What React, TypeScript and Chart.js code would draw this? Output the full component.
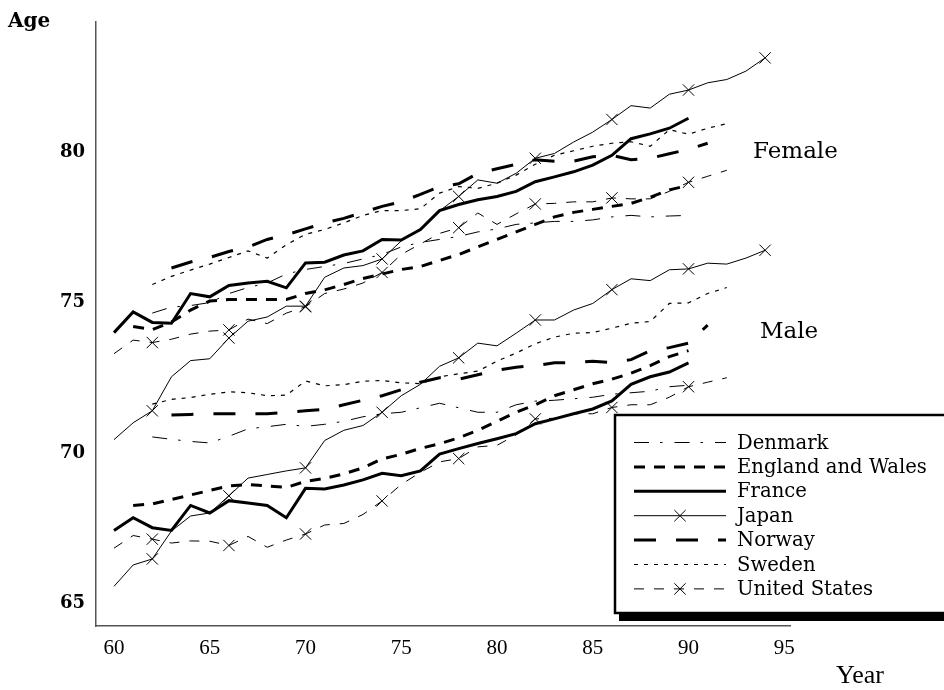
import React, { useEffect, useRef } from 'react';
import { Chart, registerables } from 'chart.js';

Chart.register(...registerables);

const N = null;

// Years (19xx) shared by all series
const years = [60, 61, 62, 63, 64, 65, 66, 67, 68, 69, 70, 71, 72, 73, 74, 75, 76, 77, 78, 79, 80, 81, 82, 83, 84, 85, 86, 87, 88, 89, 90, 91, 92, 93, 94];

const xTicks = [60, 65, 70, 75, 80, 85, 90, 95];
const yTicks = [65, 70, 75, 80];

const countries = ['Denmark', 'England and Wales', 'France', 'Japan', 'Norway', 'Sweden', 'United States'];

const japanMarkerYears = [62, 66, 70, 74, 78, 82, 86, 90, 94];
const usMarkerYears = [62, 66, 70, 74, 78, 82, 86, 90];

// Female life expectancy
const denmarkFemale = [N, N, 74.65, 74.85, 74.9, 75.0, 75.3, 75.5, 75.65, 75.95, 76.1, 76.2, 76.3, 76.45, 76.6, 76.85, 77.0, 77.1, 77.2, 77.35, 77.45, 77.6, 77.65, 77.7, 77.7, 77.75, 77.85, 77.9, 77.85, 77.88, 77.9, N, N, N, N];
const englandFemale = [N, 74.2, 74.1, 74.35, 74.75, 75.05, 75.1, 75.1, 75.1, 75.1, 75.3, 75.42, 75.6, 75.8, 75.95, 76.1, 76.2, 76.4, 76.6, 76.85, 77.1, 77.35, 77.6, 77.85, 78.0, 78.1, 78.2, 78.3, 78.5, 78.75, 78.9, N, N, N, N];
const franceFemale = [74.0, 74.69, 74.34, 74.31, 75.3, 75.19, 75.57, 75.65, 75.71, 75.49, 76.32, 76.34, 76.58, 76.72, 77.1, 77.08, 77.43, 78.06, 78.26, 78.42, 78.53, 78.7, 79.02, 79.18, 79.35, 79.57, 79.9, 80.45, 80.61, 80.8, 81.13, N, N, N, N];
const japanFemale = [70.44, 71.0, 71.4, 72.53, 73.07, 73.13, 73.82, 74.38, 74.52, 74.88, 74.88, 75.84, 76.15, 76.23, 76.45, 77.05, 77.45, 78.05, 78.53, 79.08, 78.97, 79.3, 79.8, 79.96, 80.34, 80.67, 81.09, 81.55, 81.47, 81.93, 82.07, 82.31, 82.42, 82.7, 83.14];
const norwayFemale = [N, N, N, 76.15, 76.35, 76.5, 76.7, 76.85, 77.1, 77.25, 77.45, 77.65, 77.8, 78.0, 78.2, 78.35, 78.6, 78.85, 78.95, 79.3, 79.45, 79.6, 79.75, 79.7, 79.7, 79.85, 79.9, 79.75, 79.8, 79.95, 80.1, 80.3, N, N, N];
const swedenFemale = [N, N, 75.6, 75.87, 76.08, 76.28, 76.5, 76.72, 76.48, 76.92, 77.27, 77.43, 77.65, 77.9, 78.06, 78.06, 78.12, 78.64, 78.86, 78.8, 78.97, 79.24, 79.6, 79.9, 80.05, 80.2, 80.3, 80.35, 80.2, 80.75, 80.6, 80.8, 80.95, N, N];
const usFemale = [73.3, 73.75, 73.67, 73.78, 73.95, 74.05, 74.09, 74.45, 74.3, 74.65, 74.86, 75.3, 75.45, 75.65, 76.0, 76.6, 76.95, 77.3, 77.49, 77.98, 77.6, 77.95, 78.28, 78.3, 78.35, 78.35, 78.48, 78.45, 78.45, 78.7, 79.0, 79.2, 79.4, N, N];

// Male life expectancy
const denmarkMale = [N, N, 70.53, 70.45, 70.38, 70.33, 70.55, 70.8, 70.87, 70.95, 70.88, 70.95, 71.05, 71.2, 71.3, 71.35, 71.5, 71.65, 71.5, 71.35, 71.35, 71.6, 71.72, 71.75, 71.8, 71.85, 71.95, 72.0, 72.05, 72.2, 72.25, N, N, N, N];
const englandMale = [N, 68.25, 68.3, 68.45, 68.6, 68.75, 68.9, 68.95, 68.9, 68.85, 69.05, 69.15, 69.3, 69.5, 69.8, 69.95, 70.15, 70.3, 70.5, 70.75, 71.05, 71.35, 71.6, 71.9, 72.1, 72.3, 72.45, 72.65, 72.9, 73.2, 73.4, N, N, N, N];
const franceMale = [67.42, 67.84, 67.51, 67.42, 68.25, 68.0, 68.41, 68.33, 68.25, 67.84, 68.82, 68.8, 68.93, 69.1, 69.32, 69.24, 69.4, 69.96, 70.14, 70.31, 70.47, 70.64, 70.97, 71.13, 71.3, 71.46, 71.73, 72.28, 72.53, 72.69, 72.99, N, N, N, N];
const japanMale = [65.56, 66.27, 66.47, 67.4, 67.9, 68.0, 68.57, 69.16, 69.28, 69.4, 69.5, 70.41, 70.75, 70.91, 71.35, 71.9, 72.28, 72.88, 73.16, 73.65, 73.56, 73.98, 74.42, 74.42, 74.75, 74.97, 75.43, 75.79, 75.73, 76.09, 76.12, 76.31, 76.28, 76.48, 76.74];
const norwayMale = [N, N, N, 71.26, 71.28, 71.3, 71.3, 71.3, 71.3, 71.35, 71.4, 71.45, 71.6, 71.75, 71.9, 72.1, 72.35, 72.5, 72.45, 72.6, 72.75, 72.85, 72.9, 73.0, 73.0, 73.05, 73.0, 73.1, 73.4, 73.5, 73.65, 74.25, N, N, N];
const swedenMale = [N, N, 71.62, 71.78, 71.84, 71.95, 72.03, 72.0, 71.9, 71.92, 72.39, 72.23, 72.27, 72.38, 72.41, 72.33, 72.3, 72.53, 72.63, 72.72, 73.05, 73.32, 73.63, 73.85, 73.98, 74.0, 74.15, 74.31, 74.37, 74.97, 74.99, 75.3, 75.5, N, N];
const usMale = [66.83, 67.25, 67.13, 67.0, 67.07, 67.06, 66.92, 67.22, 66.86, 67.1, 67.3, 67.6, 67.65, 67.95, 68.4, 68.95, 69.35, 69.7, 69.81, 70.2, 70.25, 70.6, 71.13, 71.15, 71.3, 71.3, 71.51, 71.6, 71.6, 71.85, 72.2, 72.35, 72.5, N, N];

const femaleSeries = [denmarkFemale, englandFemale, franceFemale, japanFemale, norwayFemale, swedenFemale, usFemale];
const maleSeries = [denmarkMale, englandMale, franceMale, japanMale, norwayMale, swedenMale, usMale];

type LineStyle = { width: number; dash: number[]; markers: number[] | null };

const lineStyles: Record<string, LineStyle> = {
  'Denmark': { width: 1, dash: [15, 11, 2.5, 12], markers: null },
  'England and Wales': { width: 3, dash: [11, 9], markers: null },
  'France': { width: 3, dash: [], markers: null },
  'Japan': { width: 1, dash: [], markers: japanMarkerYears },
  'Norway': { width: 3, dash: [22, 20], markers: null },
  'Sweden': { width: 1.2, dash: [4, 6], markers: null },
  'United States': { width: 1, dash: [10, 10], markers: usMarkerYears },
};

const MARKER_R = 8;

function toPoints(values: (number | null)[]) {
  const pts: { x: number; y: number }[] = [];
  years.forEach((yr, i) => {
    const v = values[i];
    if (v !== null && v !== undefined) pts.push({ x: yr, y: v });
  });
  return pts;
}

function drawCross(ctx: CanvasRenderingContext2D, x: number, y: number, r: number) {
  const d = r * Math.SQRT1_2;
  ctx.beginPath();
  ctx.moveTo(x - d, y - d);
  ctx.lineTo(x + d, y + d);
  ctx.moveTo(x - d, y + d);
  ctx.lineTo(x + d, y - d);
  ctx.stroke();
}

const annotationPlugin = {
  id: 'annotations',
  afterDraw(chart: any) {
    const ctx: CanvasRenderingContext2D = chart.ctx;
    const xs = chart.scales.x;
    const ys = chart.scales.y;
    ctx.save();
    ctx.setLineDash([]);
    ctx.fillStyle = '#000';
    ctx.textBaseline = 'middle';
    ctx.textAlign = 'left';

    // axis titles
    ctx.font = 'bold 20px "DejaVu Serif"';
    ctx.fillText('Age', 8, 22);
    ctx.font = '26px "Liberation Serif"';
    ctx.fillText('Year', 836, 676);

    // group labels
    ctx.font = '23px "DejaVu Serif"';
    ctx.fillText('Female', xs.getPixelForValue(93.37), ys.getPixelForValue(80.02));
    ctx.fillText('Male', xs.getPixelForValue(93.73), ys.getPixelForValue(74.02));

    // legend box with shadow
    const bx = 615, by = 415, bw = 340, bh = 198;
    ctx.fillStyle = '#000';
    ctx.fillRect(bx + 4, by + 4, bw, bh + 4);
    ctx.fillStyle = '#fff';
    ctx.fillRect(bx, by, bw, bh);
    ctx.strokeStyle = '#000';
    ctx.lineWidth = 2.5;
    ctx.strokeRect(bx, by, bw, bh);

    const x0 = 634, x1 = 726, tx = 737;
    ctx.font = '19.6px "DejaVu Serif"';
    countries.forEach((name, i) => {
      const st = lineStyles[name];
      const yy = 442.5 + i * 24.4;
      ctx.strokeStyle = '#000';
      ctx.lineWidth = st.width;
      ctx.setLineDash(st.dash);
      ctx.beginPath();
      ctx.moveTo(x0, yy);
      ctx.lineTo(x1, yy);
      ctx.stroke();
      ctx.setLineDash([]);
      if (st.markers) {
        ctx.lineWidth = 1;
        drawCross(ctx, 680, yy, MARKER_R);
      }
      ctx.fillStyle = '#000';
      ctx.fillText(name, tx, yy + 1);
    });
    ctx.restore();
  },
};

export default function App() {
  const canvasRef = useRef<HTMLCanvasElement | null>(null);

  useEffect(() => {
    const canvas = canvasRef.current;
    if (!canvas) return;

    const datasets: any[] = [];
    countries.forEach((name, i) => {
      const st = lineStyles[name];
      [femaleSeries[i], maleSeries[i]].forEach((vals, k) => {
        datasets.push({
          label: `${name} ${k === 0 ? 'Female' : 'Male'}`,
          data: toPoints(vals),
          borderColor: '#000',
          backgroundColor: '#000',
          borderWidth: st.width,
          borderDash: st.dash,
          tension: 0,
          fill: false,
          pointStyle: 'crossRot',
          pointBorderColor: '#000',
          pointBackgroundColor: '#000',
          pointBorderWidth: 1,
          pointRadius: (c: any) => (st.markers && c.raw && st.markers.includes(c.raw.x) ? MARKER_R : 0),
          pointHoverRadius: 0,
        });
      });
    });

    const chart = new Chart(canvas, {
      type: 'line',
      data: { datasets },
      options: {
        animation: false,
        responsive: false,
        devicePixelRatio: 1,
        layout: { padding: { left: 0, right: 154, top: 15, bottom: 0 } },
        plugins: {
          legend: { display: false },
          tooltip: { enabled: false },
          title: { display: false },
        },
        scales: {
          x: {
            type: 'linear',
            min: 59.06,
            max: 95.3,
            grid: { display: false, drawTicks: false },
            border: { display: true, color: '#555', width: 1.5 },
            ticks: {
              color: '#000',
              font: { family: 'Liberation Serif', size: 21 },
              padding: 10,
              autoSkip: false,
              maxRotation: 0,
            },
            afterBuildTicks: (s: any) => {
              s.ticks = xTicks.map((v) => ({ value: v }));
            },
            afterFit: (s: any) => {
              s.height = 64;
            },
          },
          y: {
            type: 'linear',
            min: 64.24,
            max: 84.34,
            grid: { display: false, drawTicks: false },
            border: { display: true, color: '#555', width: 1.5 },
            ticks: {
              color: '#000',
              font: { family: 'DejaVu Serif', size: 18, weight: 'bold' },
              padding: 11,
              autoSkip: false,
            },
            afterBuildTicks: (s: any) => {
              s.ticks = yTicks.map((v) => ({ value: v }));
            },
            afterFit: (s: any) => {
              s.width = 96;
            },
          },
        },
      } as any,
      plugins: [annotationPlugin],
    });

    return () => {
      chart.destroy();
    };
  }, []);

  return (
    <div style={{ position: 'fixed', left: 0, top: 0, width: 944, height: 690, background: '#fff' }}>
      <canvas ref={canvasRef} width={944} height={690} style={{ display: 'block' }} />
    </div>
  );
}
